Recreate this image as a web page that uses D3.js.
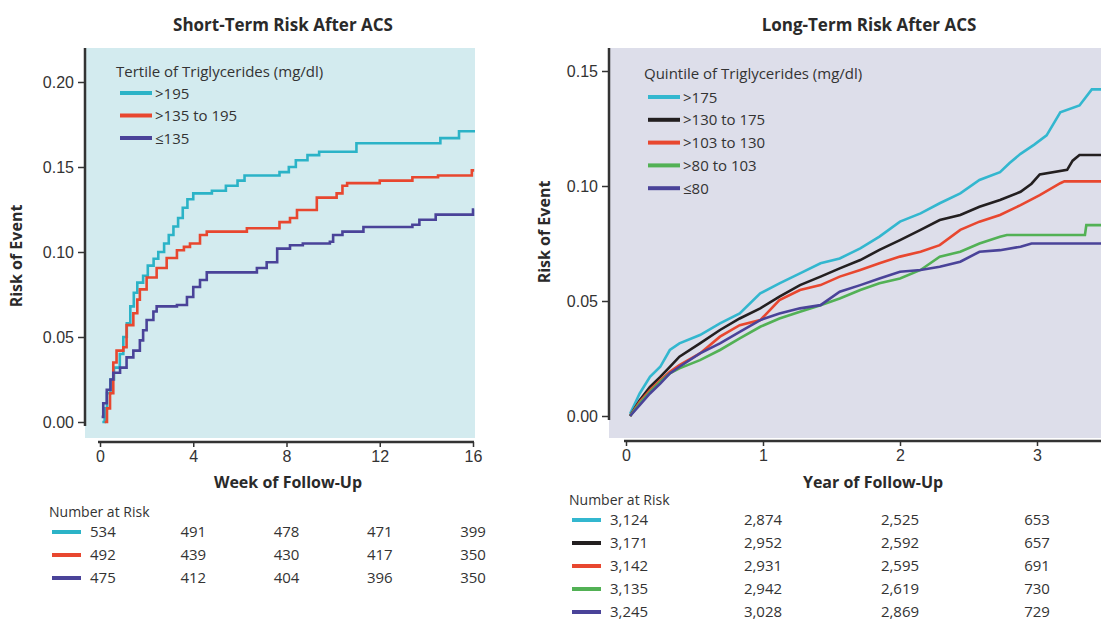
<!DOCTYPE html>
<html>
<head>
<meta charset="utf-8">
<script src="https://cdn.jsdelivr.net/npm/d3@7"></script>
<style>
  body { margin: 0; background: #fff; }
  svg { font-family: "Open Sans", "Noto Sans", sans-serif; }
</style>
</head>
<body>
<div id="wrapper"></div>
<script>
// ---- data ----
const stTicks = [0, 4, 8, 12, 16]
const stYTicks = [0, 0.05, 0.10, 0.15, 0.20]
const stNames = [">195", ">135 to 195", "≤135"]
const stColors = ["#2bb3c7", "#e8472f", "#4a4399"]

// [week, risk]
const stHigh = [[0.1,0],[0.2,0.008],[0.3,0.017],[0.45,0.025],[0.6,0.032],[0.85,0.040],[1.0,0.050],[1.15,0.058],[1.3,0.068],[1.45,0.076],[1.6,0.082],[1.85,0.086],[2.05,0.092],[2.3,0.096],[2.5,0.100],[2.75,0.105],[2.95,0.110],[3.15,0.115],[3.35,0.120],[3.55,0.126],[3.75,0.131],[4.0,0.1345],[4.8,0.136],[5.4,0.139],[5.9,0.142],[6.2,0.145],[7.7,0.147],[8.1,0.150],[8.4,0.154],[8.9,0.157],[9.4,0.159],[11.0,0.164],[14.6,0.167],[15.4,0.171],[16.1,0.171]]
const stMid = [[0.2,0],[0.3,0.008],[0.43,0.017],[0.57,0.035],[0.71,0.042],[1.0,0.044],[1.14,0.057],[1.43,0.064],[1.6,0.072],[1.71,0.078],[2.0,0.085],[2.43,0.0906],[2.86,0.0965],[3.3,0.101],[3.6,0.103],[3.86,0.105],[4.29,0.110],[4.58,0.112],[6.3,0.114],[7.7,0.1176],[8.15,0.120],[8.45,0.1247],[9.3,0.132],[10.15,0.1345],[10.4,0.139],[10.6,0.1405],[12.0,0.142],[13.4,0.144],[14.5,0.145],[15.95,0.148],[16.05,0.148]]
const stLow = [[0.07,0.003],[0.14,0.011],[0.29,0.019],[0.45,0.025],[0.57,0.029],[0.86,0.032],[1.14,0.038],[1.43,0.042],[1.71,0.048],[1.85,0.054],[2.0,0.060],[2.29,0.065],[2.43,0.068],[3.3,0.0688],[3.73,0.0735],[4.0,0.0794],[4.29,0.0835],[4.58,0.088],[6.73,0.0906],[7.15,0.094],[7.6,0.102],[8.15,0.104],[8.7,0.105],[9.86,0.106],[10.0,0.110],[10.4,0.112],[11.3,0.1147],[13.4,0.116],[13.7,0.119],[14.4,0.122],[16.0,0.125],[16.05,0.125]]
const stRisk = [
  [534, 491, 478, 471, 399],
  [492, 439, 430, 417, 350],
  [475, 412, 404, 396, 350],
]

const ltTicks = [0, 1, 2, 3]
const ltYTicks = [0, 0.05, 0.10, 0.15]
const ltNames = [">175", ">130 to 175", ">103 to 130", ">80 to 103", "≤80"]
const ltColors = ["#33b7cf", "#231f20", "#e8472f", "#52b155", "#4a4399"]

// [year, risk]
const ltQ5 = [[0.03,0.001],[0.10,0.0098],[0.175,0.017],[0.25,0.0214],[0.32,0.0287],[0.39,0.0316],[0.54,0.0352],[0.686,0.0403],[0.83,0.0446],[0.98,0.0533],[1.12,0.0577],[1.27,0.062],[1.42,0.0664],[1.56,0.0685],[1.71,0.0729],[1.85,0.078],[2.0,0.0845],[2.15,0.0881],[2.29,0.0925],[2.44,0.0968],[2.58,0.1026],[2.73,0.106],[2.8,0.110],[2.88,0.114],[2.98,0.118],[3.07,0.122],[3.12,0.127],[3.17,0.132],[3.31,0.135],[3.4,0.142],[3.5,0.142]]
const ltQ4 = [[0.03,0],[0.10,0.0069],[0.175,0.0127],[0.25,0.017],[0.32,0.0214],[0.39,0.0258],[0.54,0.0316],[0.686,0.0374],[0.83,0.0424],[0.98,0.0468],[1.12,0.0519],[1.27,0.0569],[1.42,0.0606],[1.56,0.0642],[1.71,0.0678],[1.85,0.0722],[2.0,0.0765],[2.15,0.0809],[2.29,0.0852],[2.44,0.0874],[2.58,0.091],[2.73,0.0939],[2.88,0.0975],[2.96,0.101],[3.02,0.105],[3.22,0.107],[3.26,0.111],[3.31,0.1135],[3.5,0.1135]]
const ltQ3 = [[0.03,0],[0.10,0.0062],[0.175,0.0112],[0.25,0.0156],[0.32,0.0192],[0.39,0.0221],[0.54,0.0272],[0.686,0.0345],[0.83,0.0395],[0.98,0.0417],[1.12,0.0504],[1.27,0.0548],[1.42,0.0569],[1.56,0.0606],[1.71,0.0635],[1.85,0.0664],[2.0,0.0693],[2.15,0.0714],[2.29,0.0743],[2.44,0.0809],[2.58,0.0845],[2.73,0.0874],[2.88,0.0917],[3.02,0.096],[3.17,0.1012],[3.2,0.102],[3.5,0.102]]
const ltQ2 = [[0.03,0],[0.10,0.0055],[0.175,0.0105],[0.25,0.0149],[0.32,0.0185],[0.39,0.0207],[0.54,0.0243],[0.686,0.0287],[0.83,0.0337],[0.98,0.0388],[1.12,0.0424],[1.27,0.0453],[1.42,0.0482],[1.56,0.0511],[1.71,0.0548],[1.85,0.0577],[2.0,0.0598],[2.15,0.0635],[2.29,0.0693],[2.44,0.0714],[2.58,0.075],[2.73,0.0779],[2.78,0.0787],[3.35,0.0787],[3.36,0.083],[3.5,0.083]]
const ltQ1 = [[0.03,0],[0.10,0.0047],[0.175,0.0098],[0.25,0.0141],[0.32,0.0185],[0.39,0.0214],[0.54,0.0272],[0.686,0.0316],[0.83,0.0366],[0.98,0.0417],[1.12,0.0446],[1.27,0.0468],[1.42,0.0482],[1.56,0.054],[1.71,0.0569],[1.85,0.0598],[2.0,0.0627],[2.15,0.0635],[2.29,0.0649],[2.44,0.0671],[2.58,0.0714],[2.73,0.0721],[2.88,0.0736],[2.96,0.075],[3.5,0.075]]
const ltRisk = [
  [3124, 2874, 2525, 653],
  [3171, 2952, 2592, 657],
  [3142, 2931, 2595, 691],
  [3135, 2942, 2619, 730],
  [3245, 3028, 2869, 729],
]

function drawChart() {
  const width = 1101
  const height = 623

  const svg = d3.select("#wrapper")
    .append("svg")
      .attr("width", width)
      .attr("height", height)

  const formatNum = d3.format(",")

  function drawPanel(p) {
    const xScale = d3.scaleLinear().domain(p.xDomain).range(p.xRange)
    const yScale = d3.scaleLinear().domain(p.yDomain).range(p.yRange)

    const clipId = "clip-" + p.id
    svg.append("clipPath")
      .attr("id", clipId)
      .append("rect")
        .attr("x", p.bg.x)
        .attr("y", p.bg.y)
        .attr("width", p.bg.w)
        .attr("height", p.bg.h)

    svg.append("rect")
      .attr("x", p.bg.x)
      .attr("y", p.bg.y)
      .attr("width", p.bg.w)
      .attr("height", p.bg.h)
      .attr("fill", p.bgColor)

    // title
    svg.append("text")
      .attr("x", p.titleX)
      .attr("y", 31)
      .attr("text-anchor", "middle")
      .style("font-size", "17px")
      .style("font-weight", "700")
      .attr("fill", "#2a2a2a")
      .text(p.title)

    // curves
    const lineGenerator = d3.line()
      .x(d => xScale(d[0]))
      .y(d => yScale(d[1]))
      .curve(p.curve)

    const curves = svg.append("g").attr("clip-path", `url(#${clipId})`)
    p.series.forEach((s, i) => {
      curves.append("path")
        .datum(s)
        .attr("d", lineGenerator)
        .attr("fill", "none")
        .attr("stroke", p.colors[i])
        .attr("stroke-width", 2.6)
    })

    // y axis
    const yAxis = svg.append("g")
      .style("transform", `translateX(${p.yAxisX}px)`)
      .call(d3.axisLeft(yScale).tickValues(p.yTicks).tickFormat(d3.format(".2f")).tickSize(7).tickPadding(4))
    yAxis.select(".domain").remove()
    yAxis.selectAll(".tick line").attr("stroke", "#333").attr("stroke-width", 1.5)
    yAxis.selectAll(".tick text").style("font-size", "16px").attr("fill", "#333")
    svg.append("line")
      .attr("x1", p.yAxisX).attr("x2", p.yAxisX)
      .attr("y1", p.bg.y).attr("y2", p.yAxisEnd)
      .attr("stroke", "#333").attr("stroke-width", 2.5)

    // x axis
    const xAxis = svg.append("g")
      .style("transform", `translateY(${p.xAxisY}px)`)
      .call(d3.axisBottom(xScale).tickValues(p.xTicks).tickFormat(d3.format("d")).tickSize(5).tickPadding(4))
    xAxis.select(".domain").remove()
    xAxis.selectAll(".tick line").attr("stroke", "#333").attr("stroke-width", 1.5)
    xAxis.selectAll(".tick text").style("font-size", "16px").attr("fill", "#333")
    svg.append("line")
      .attr("x1", p.xRange[0] - 2).attr("x2", p.xAxisEnd)
      .attr("y1", p.xAxisY).attr("y2", p.xAxisY)
      .attr("stroke", "#333").attr("stroke-width", 2.5)

    svg.append("text")
      .attr("x", p.xLabelX)
      .attr("y", 488)
      .attr("text-anchor", "middle")
      .style("font-size", "16px")
      .style("font-weight", "700")
      .attr("fill", "#2a2a2a")
      .text(p.xLabel)

    svg.append("text")
      .attr("transform", `translate(${p.yLabelX}, ${p.yLabelY}) rotate(-90)`)
      .attr("text-anchor", "middle")
      .style("font-size", "16px")
      .style("font-weight", "700")
      .attr("fill", "#2a2a2a")
      .text("Risk of Event")

    // legend
    const legend = svg.append("g")
    legend.append("text")
      .attr("x", p.legend.x)
      .attr("y", p.legend.y)
      .style("font-size", "15px")
      .attr("fill", "#333")
      .text(p.legendTitle)
    p.names.forEach((name, i) => {
      const y = p.legend.y + p.legend.first + i * p.legend.step
      legend.append("line")
        .attr("x1", p.legend.x + 4).attr("x2", p.legend.x + 36)
        .attr("y1", y).attr("y2", y)
        .attr("stroke", p.colors[i]).attr("stroke-width", 4)
      legend.append("text")
        .attr("x", p.legend.x + 39)
        .attr("y", y + 5.5)
        .style("font-size", "15px")
        .attr("fill", "#333")
        .text(name)
    })

    // number at risk table
    const table = svg.append("g")
    table.append("text")
      .attr("x", p.table.x)
      .attr("y", p.table.y)
      .style("font-size", "14px")
      .attr("fill", "#333")
      .text("Number at Risk")
    p.risk.forEach((row, i) => {
      const y = p.table.y + 20 + i * 23
      table.append("line")
        .attr("x1", p.table.x + 3).attr("x2", p.table.x + 32)
        .attr("y1", y - 5).attr("y2", y - 5)
        .attr("stroke", p.colors[i]).attr("stroke-width", 4)
      row.forEach((v, j) => {
        table.append("text")
          .attr("x", j === 0 ? p.table.x + 41 : xScale(p.xTicks[j]))
          .attr("y", y)
          .attr("text-anchor", j === 0 ? "start" : "middle")
          .style("font-size", "15px")
          .attr("fill", "#333")
          .text(formatNum(v))
      })
    })
  }

  drawPanel({
    id: "st",
    title: "Short-Term Risk After ACS",
    titleX: 283,
    bg: { x: 85, y: 48, w: 390, h: 390 },
    bgColor: "#d3ebef",
    xDomain: [0, 16], xRange: [100, 473],
    yDomain: [0, 0.20], yRange: [422, 82],
    xTicks: stTicks, yTicks: stYTicks,
    yAxisX: 85, yAxisEnd: 426,
    xAxisY: 442, xAxisEnd: 474,
    xLabel: "Week of Follow-Up", xLabelX: 288,
    yLabelX: 22, yLabelY: 256,
    curve: d3.curveStepAfter,
    series: [stHigh, stMid, stLow],
    colors: stColors,
    names: stNames,
    legendTitle: "Tertile of Triglycerides (mg/dl)",
    legend: { x: 116, y: 77, first: 16, step: 22.5 },
    risk: stRisk,
    table: { x: 49, y: 517 },
  })

  drawPanel({
    id: "lt",
    title: "Long-Term Risk After ACS",
    titleX: 869,
    bg: { x: 609, y: 48, w: 492, h: 390 },
    bgColor: "#dddeea",
    xDomain: [0, 3], xRange: [626, 1037],
    yDomain: [0, 0.15], yRange: [416, 71],
    xTicks: ltTicks, yTicks: ltYTicks,
    yAxisX: 609, yAxisEnd: 420,
    xAxisY: 441, xAxisEnd: 1101,
    xLabel: "Year of Follow-Up", xLabelX: 873,
    yLabelX: 550, yLabelY: 232,
    curve: d3.curveLinear,
    series: [ltQ5, ltQ4, ltQ3, ltQ2, ltQ1],
    colors: ltColors,
    names: ltNames,
    legendTitle: "Quintile of Triglycerides (mg/dl)",
    legend: { x: 644, y: 79, first: 18, step: 22.8 },
    risk: ltRisk,
    table: { x: 569, y: 505 },
  })
}

drawChart()
</script>
</body>
</html>
